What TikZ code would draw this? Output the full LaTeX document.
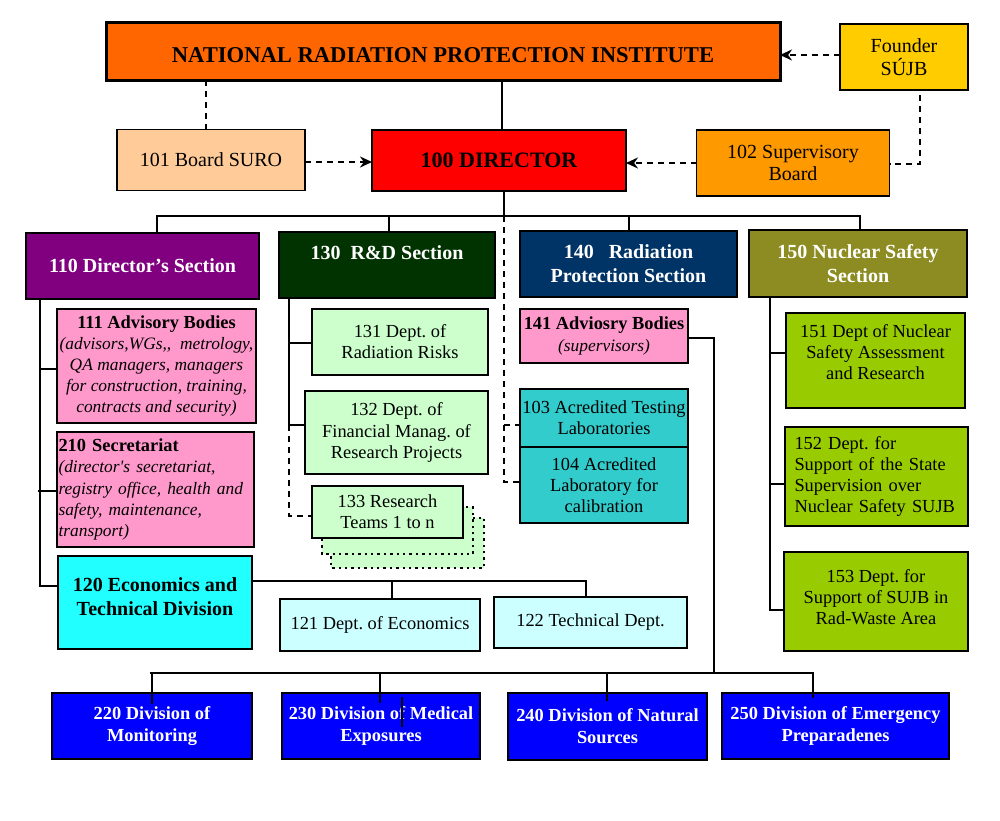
\documentclass[tikz,border=0pt]{standalone}
\usepackage{fontspec}
\setmainfont{Liberation Serif}[Ligatures=TeXOff]
\usetikzlibrary{arrows.meta,calc}
\frenchspacing
\newcommand\zzN{\fontsize{9.2pt}{10.6pt}\selectfont}
\newcommand\zzI{\fontsize{8.7pt}{10.5pt}\selectfont}
\newcommand\zzM{\fontsize{10pt}{11.2pt}\selectfont}
\newcommand\zzS{\fontsize{10pt}{12pt}\selectfont\bfseries}
\newcommand\zzB{\fontsize{9.2pt}{11pt}\selectfont\bfseries}
\newcommand\zzT{\fontsize{11.3pt}{13pt}\selectfont\bfseries}
\newcommand\zzD{\fontsize{11pt}{13pt}\selectfont\bfseries}
\definecolor{cNRPI}{HTML}{FF6600}
\definecolor{cFound}{HTML}{FFCC00}
\definecolor{cPeach}{HTML}{FFCC99}
\definecolor{cOrange}{HTML}{FF9900}
\definecolor{cPurple}{HTML}{800080}
\definecolor{cDGreen}{HTML}{003300}
\definecolor{cNavy}{HTML}{003366}
\definecolor{cOlive}{HTML}{8C8C22}
\definecolor{cPink}{HTML}{FF99CC}
\definecolor{cCyan}{HTML}{22FFFF}
\definecolor{cLCyan}{HTML}{CCFFFF}
\definecolor{cLGreen}{HTML}{CCFFCC}
\definecolor{cTeal}{HTML}{33CCCC}
\definecolor{cLime}{HTML}{99CC00}
\definecolor{cBlue}{HTML}{0000FF}
\tikzset{
  bx/.style={draw, line width=1.2pt, inner sep=0pt, outer sep=0pt, align=center},
  thinbx/.style={line width=0.7pt},
  wh/.style 2 args={minimum width={#1*0.5pt}, minimum height={#2*0.5pt}},
  ln/.style={line width=1pt},
  dl/.style={line width=1pt, dash pattern=on 3pt off 2.5pt},
  arr/.style={dl, -{Stealth[length=6pt,width=5.5pt]}},
  sect/.style={text=white, font=\zzS, align=center},
  blu/.style={text=white, font=\zzB},
  shadowbx/.style={draw, line width=1.2pt, dotted, fill=cLGreen}
}
\begin{document}
\begin{tikzpicture}[x=0.5pt, y=-0.5pt]
\useasboundingbox[fill=white] (0,0) rectangle (1000,820);

% top level
\node[bx, line width=1.5pt, wh={674}{58}, fill=cNRPI] (nrpi) at (443,51) {};
\node[font=\zzT] (tnrpi) at (443,55) {NATIONAL RADIATION PROTECTION INSTITUTE};
\node[bx, thinbx, wh={128}{66}, fill=cFound, font=\zzM] (found) at (904,57) {Founder\\SÚJB};
\node[bx, thinbx, wh={188}{61}, fill=cPeach, font=\zzM] (b101) at (211,160) {101 Board SURO};
\node[bx, line width=1pt, wh={254}{61}, fill=red, font=\zzD] (dir) at (499,160) {100 DIRECTOR};
\node[bx, thinbx, wh={193}{66}, fill=cOrange, font=\zzM] (b102) at (793,163) {102 Supervisory\\Board};

% sections
\node[bx, wh={233}{66}, fill=cPurple, sect] (s110) at (142.5,266) {110 Director’s Section};
\node[bx, wh={216}{66}, fill=cDGreen] (s130) at (387,265) {};
\node[sect] (t130) at (387,253) {130\ \ R\&D Section};
\node[bx, wh={217}{66}, fill=cNavy, sect] (s140) at (628.5,264) {140\ \ \ Radiation\\Protection Section};
\node[bx, wh={218}{67}, fill=cOlive, sect] (s150) at (858,263.5) {150 Nuclear Safety\\Section};

% 110 column
\node[bx, wh={199}{114}, fill=cPink, font=\zzN] (b111) at (156.5,366) {\textbf{111 Advisory Bodies}\\{\zzI\itshape (advisors,WGs,,\ \ metrology,}\\{\zzI\itshape QA managers, managers}\\{\zzI\itshape for construction, training,}\\{\zzI\itshape contracts and security)}};
\node[bx, wh={197}{115}, fill=cPink, font=\zzN, align=left, text width=97pt] (b210) at (155.5,489.5) {\textbf{210 Secretariat}\\{\zzI\itshape (director's secretariat,}\\{\zzI\itshape registry office, health and}\\{\zzI\itshape safety, maintenance,}\\{\zzI\itshape transport)}};
\node[bx, wh={194}{93}, fill=cCyan] (b120) at (155,602.5) {};
\node[font=\zzS, align=center] (t120) at (155,597) {120 Economics and\\Technical Division};
\node[bx, wh={200}{52}, fill=cLCyan, font=\zzN] (b121) at (380,625) {121 Dept. of Economics};
\node[bx, wh={193}{51}, fill=cLCyan, font=\zzN] (b122) at (590.5,622.5) {122 Technical Dept.};

% 130 column
\node[bx, wh={176}{66}, fill=cLGreen, font=\zzN] (b131) at (400,342) {131 Dept. of\\Radiation Risks};
\node[bx, wh={183}{83}, fill=cLGreen, font=\zzN] (b132) at (396.5,432.5) {132 Dept. of\\Financial Manag. of\\Research Projects};
\draw[shadowbx] (331,518) rectangle (484,568);
\draw[shadowbx] (322,507) rectangle (473,554);
\node[bx, wh={151}{52}, fill=cLGreen, font=\zzN] (b133) at (387.5,512) {133 Research\\Teams 1 to n};

% 140 column
\node[bx, wh={168}{54}, fill=cPink, font=\zzN] (b141) at (604,336) {\textbf{141 Adviosry Bodies}\\{\zzI\itshape (supervisors)}};
\node[bx, wh={168}{58}, fill=cTeal, font=\zzN] (b103) at (604,418) {103 Acredited Testing\\Laboratories};
\node[bx, wh={168}{76}, fill=cTeal, font=\zzN] (b104) at (604,485) {104 Acredited\\Laboratory for\\calibration};

% 150 column
\node[bx, wh={179}{95}, fill=cLime] (b151) at (875.5,360.5) {};
\node[font=\zzN, align=center] (t151) at (875.5,352) {151 Dept of Nuclear\\Safety Assessment\\and Research};
\node[bx, wh={183}{99}, fill=cLime, font=\zzN, align=left, text width=82pt] (b152) at (876.5,476.5) {152 Dept. for\\Support of the State\\Supervision over\\Nuclear Safety SUJB};
\node[bx, wh={184}{99}, fill=cLime] (b153) at (876,601.5) {};
\node[font=\zzN, align=center] (t153) at (876,597) {153 Dept. for\\Support of SUJB in\\Rad-Waste Area};

% divisions
\node[bx, wh={200}{66}, fill=cBlue, blu] (b220) at (152,726) {220 Division of\\Monitoring};
\node[bx, wh={198}{66}, fill=cBlue, blu] (b230) at (381,726) {230 Division of Medical\\Exposures};
\node[bx, wh={199}{67}, fill=cBlue, blu] (b240) at (607.5,726.5) {240 Division of Natural\\Sources};
\node[bx, wh={227}{66}, fill=cBlue, blu] (b250) at (835.5,726) {250 Division of Emergency\\Preparadenes};

% named junctions
\coordinate (bus) at (0,216);
\coordinate (bb) at (0,673);

% top connectors
\draw[dl] (206,0 |- nrpi.south) -- (206,0 |- b101.north);
\draw[ln] (502,0 |- nrpi.south) -- (502,0 |- dir.north);
\draw[arr] (found.west |- 0,55) -- (nrpi.east |- 0,55);
\draw[dl, shorten <=2.5pt] (920,0 |- found.south) |- (b102.east |- 0,164);
\draw[arr] (b101.east |- 0,162) -- (dir.west |- 0,162);
\draw[arr] (b102.west |- 0,163) -- (dir.east |- 0,163);

% director bus
\draw[ln] (504,0 |- dir.south) -- (504,0 |- bus);
\draw[ln] (s110.north -| 157,0) -- (157,0 |- bus) -- (860,0 |- bus) -- (s150.north -| 860,0);
\draw[ln] (389,0 |- bus) -- (s130.north -| 389,0);
\draw[ln] (629,0 |- bus) -- (s140.north -| 629,0);
\draw[dl] (504,0 |- bus) |- (b104.west |- 0,482);
\draw[dl] (504,425) -- (b103.west |- 0,425);

% 110 column
\draw[ln] (s110.south -| 40,0) |- (b120.west |- 0,586);
\draw[ln] (40,369) -- (b111.west |- 0,369);
\draw[ln] (38,491) -- (b210.west |- 0,491);
\draw[ln] (b120.east |- 0,581) -| (b122.north -| 586,0);
\draw[ln] (392,581) -- (b121.north -| 392,0);

% 130 column
\draw[ln] (s130.south -| 289,0) |- (b132.west |- 0,425);
\draw[ln] (289,343) -- (b131.west |- 0,343);
\draw[dl] (289,425) |- (b133.west |- 0,516);

% 140 column
\draw[ln] (b141.east |- 0,338) -| (714,0 |- bb);

% 150 column
\draw[ln] (s150.south -| 770,0) |- (b153.west |- 0,610);
\draw[ln] (770,353) -- (b151.west |- 0,353);
\draw[ln] (770,484) -- (b152.west |- 0,484);

% bottom bus
\draw[ln] (150,0 |- bb) -- (814,0 |- bb);
\draw[ln] (152,0 |- bb) -- ($(b220.north -| 152,0)+(0,11)$);
\draw[ln] (380,0 |- bb) -- ($(b230.north -| 380,0)+(0,10)$);
\draw[ln] (607,0 |- bb) -- ($(b240.north -| 607,0)+(0,8)$);
\draw[ln] (813,0 |- bb) -- ($(b250.north -| 813,0)+(0,5)$);
\draw[line width=1.2pt] ($(b230.north -| 402,0)+(0,4)$) -- ++(0,30);
\end{tikzpicture}
\end{document}
